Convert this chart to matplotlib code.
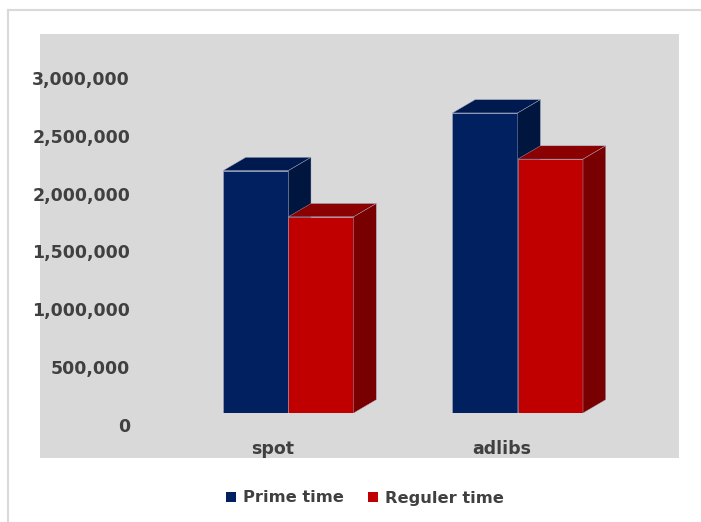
import matplotlib
matplotlib.use("Agg")
import matplotlib.pyplot as plt
from matplotlib.patches import Rectangle, Polygon, Patch
from matplotlib.lines import Line2D
from matplotlib.transforms import ScaledTranslation

# ---- data ----
categories = ["spot", "adlibs"]
series_names = ["Prime time", "Reguler time"]
prime_time = [2100000, 2600000]
reguler_time = [1700000, 2200000]
y_ticks = [0, 500000, 1000000, 1500000, 2000000, 2500000, 3000000]
y_tick_labels = [f"{t:,}" for t in y_ticks]

# ---- styles ----
W, H = 701, 522
front_cols = ["#002060", "#C00000"]
top_cols = ["#001A4F", "#8B0000"]
side_cols = ["#00163F", "#780000"]
edge_col = "#a8aac4"
txt_col = "#404040"

plt.rcParams["font.family"] = ["DejaVu Sans"]

fig = plt.figure(figsize=(W / 100, H / 100), dpi=100)
fig.patch.set_facecolor("white")

# outer chart border (top and left only visible) and plot-area background
fig.lines.append(Line2D([8 / W, 1.0], [1 - 10 / H, 1 - 10 / H], transform=fig.transFigure,
                        color="#d9d9d9", lw=1.5, zorder=-5))
fig.lines.append(Line2D([8 / W, 8 / W], [0.0, 1 - 10 / H], transform=fig.transFigure,
                        color="#d9d9d9", lw=1.5, zorder=-5))
fig.patches.append(Rectangle((40 / W, 1 - 458 / H), 639 / W, 424 / H, transform=fig.transFigure,
                             fc="#d9d9d9", ec="none", zorder=-5))

# axes: y=0 at 413px from top, 115.4 px per million
px_per_unit_x = 229.4
x0_center_px = 288.3
ax_left_px, ax_right_px = 40, 680
y0_px = 413
px_per_million = 115.4
top_px = y0_px - 3 * px_per_million
ax = fig.add_axes([ax_left_px / W, (H - y0_px) / H, (ax_right_px - ax_left_px) / W, (y0_px - top_px) / H])
ax.set_zorder(5)
ax.patch.set_visible(False)
for s in ax.spines.values():
    s.set_visible(False)
ax.set_xlim((ax_left_px - x0_center_px) / px_per_unit_x, (ax_right_px - x0_center_px) / px_per_unit_x)
ax.set_ylim(0, 3000000)

w = 65.3 / px_per_unit_x
dx = 22.7 / px_per_unit_x
dy = 13.3 / px_per_million * 1e6

xs = list(range(len(categories)))
for si, vals in enumerate([prime_time, reguler_time]):
    offs = -w / 2 if si == 0 else w / 2
    pos = [x + offs for x in xs]
    z = 2 + si * 3
    ax.bar(pos, vals, width=w, color=front_cols[si], edgecolor=edge_col, linewidth=0.4, zorder=z)
    for p, v in zip(pos, vals):
        xl, xr = p - w / 2, p + w / 2
        ax.add_patch(Polygon([(xl, v), (xl + dx, v + dy), (xr + dx, v + dy), (xr, v)], closed=True,
                             fc=top_cols[si], ec=edge_col, lw=0.3, zorder=z + 1))
        ax.add_patch(Polygon([(xr, 0), (xr + dx, dy), (xr + dx, v + dy), (xr, v)], closed=True,
                             fc=side_cols[si], ec=edge_col, lw=0.3, zorder=z + 1))

# y tick labels
ax.set_yticks(y_ticks)
ax.set_yticklabels(y_tick_labels)
ax.tick_params(axis="y", length=0, pad=-64.8, labelsize=12.5, labelcolor=txt_col)
for lab in ax.get_yticklabels():
    lab.set_fontweight("bold")
    lab.set_transform(lab.get_transform() + ScaledTranslation(0, -0.115, fig.dpi_scale_trans))

# x tick labels
ax.set_xticks(xs)
ax.set_xticklabels(categories)
ax.tick_params(axis="x", length=0, pad=19.5, labelsize=12.5, labelcolor=txt_col)
for lab in ax.get_xticklabels():
    lab.set_fontweight("bold")
    lab.set_transform(lab.get_transform() + ScaledTranslation(-0.156, 0, fig.dpi_scale_trans))

# legend
handles = [Patch(fc=front_cols[0], ec="none"), Patch(fc=front_cols[1], ec="none")]
fig.legend(handles, series_names, loc="center", bbox_to_anchor=(365 / W, 1 - 498 / H), ncol=2,
           frameon=False, prop=dict(weight="bold", size=11.7), labelcolor=txt_col,
           handlelength=0.62, handleheight=0.62, handletextpad=0.4, columnspacing=1.5)

fig.savefig("out.png", dpi=100)
